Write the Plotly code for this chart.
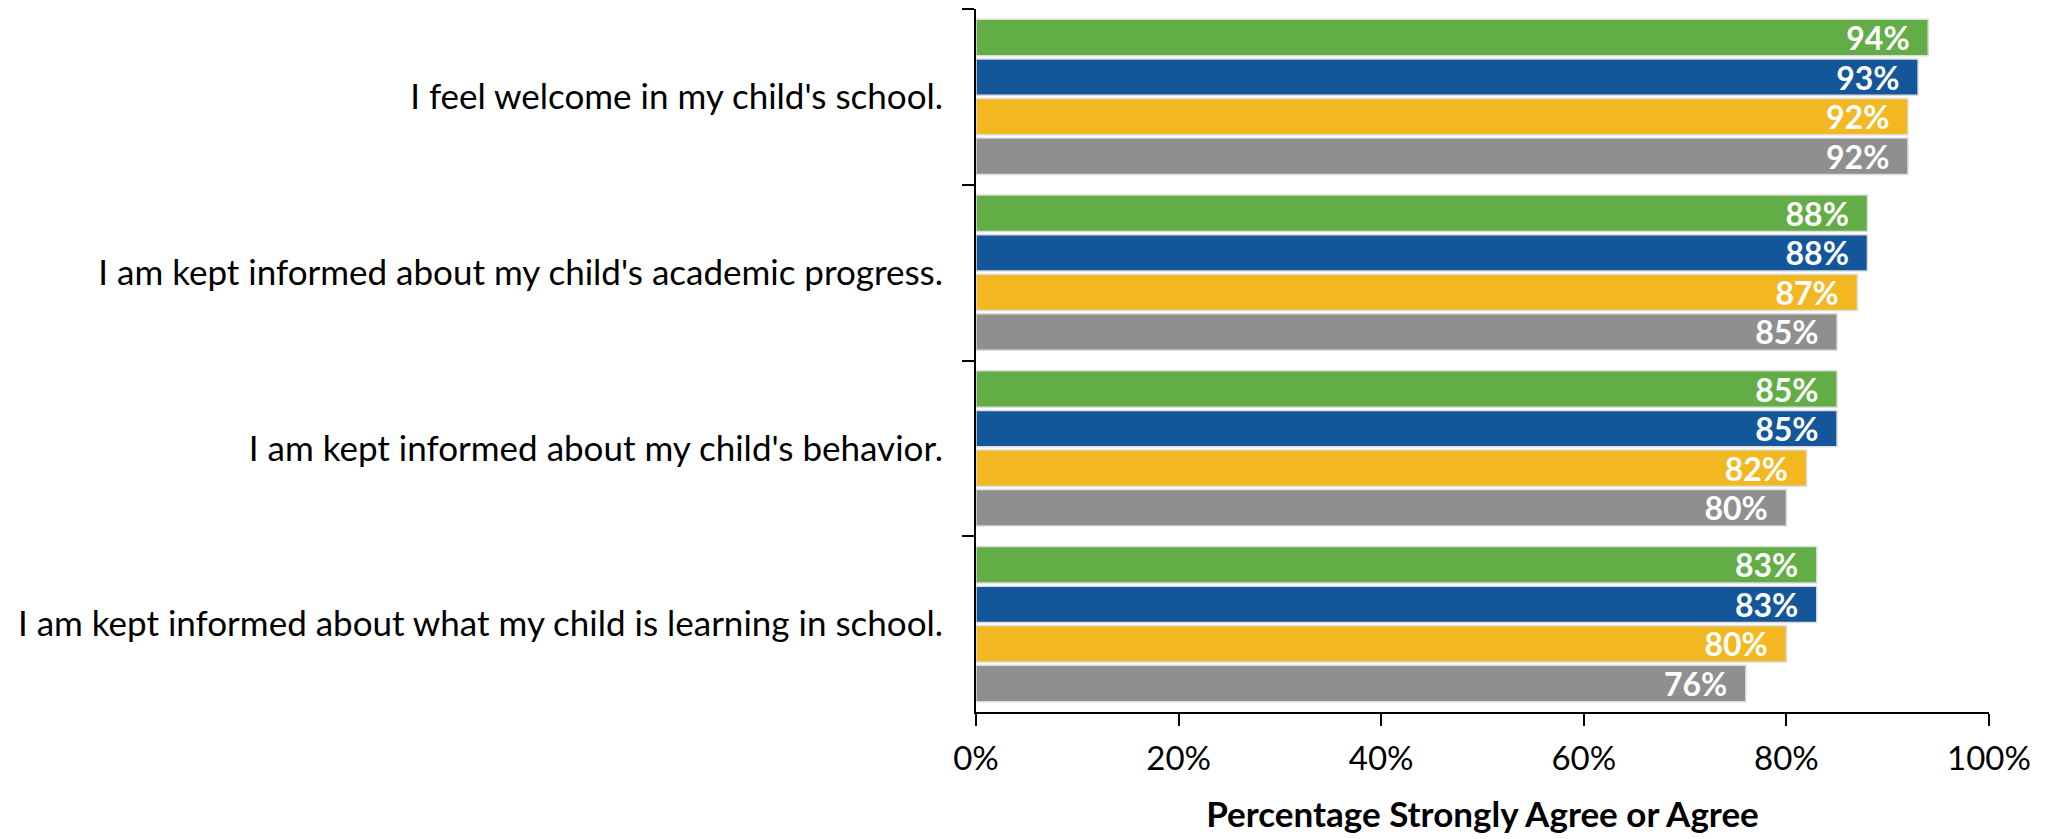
import plotly.graph_objects as go

categories = [
    "I feel welcome in my child's school.",
    "I am kept informed about my child's academic progress.",
    "I am kept informed about my child's behavior.",
    "I am kept informed about what my child is learning in school.",
]
series_names = ["Series 1", "Series 2", "Series 3", "Series 4"]
series_values = [
    [94, 88, 85, 83],
    [93, 88, 85, 83],
    [92, 87, 82, 80],
    [92, 85, 80, 76],
]
series_colors = ["#63AD46", "#13569A", "#F3B821", "#8F8F8F"]
x_tick_values = [0, 20, 40, 60, 80, 100]
x_tick_labels = ["0%", "20%", "40%", "60%", "80%", "100%"]
x_axis_title = "Percentage Strongly Agree or Agree"

FONT = "Lato"

fig = go.Figure()
for name, vals, col in zip(series_names, series_values, series_colors):
    fig.add_trace(go.Bar(
        name=name,
        y=categories,
        x=vals,
        orientation="h",
        marker=dict(color=col, line=dict(color="#DDDDDD", width=1.5)),
        text=[f"{v}%\u00a0\u00a0" for v in vals],
        texttemplate="%{text}",
        textposition="inside",
        insidetextanchor="end",
        textfont=dict(family=FONT, size=32, color="white", weight="bold"),
        hoverinfo="skip",
    ))

fig.update_layout(
    width=2040, height=831, autosize=False,
    margin=dict(l=968, r=59, t=1, b=127, pad=0),
    plot_bgcolor="white", paper_bgcolor="white",
    barmode="group", bargap=0.1, bargroupgap=0.08,
    showlegend=False,
    uniformtext=dict(minsize=32, mode="show"),
    font=dict(family=FONT, color="black"),
)
fig.update_yaxes(
    type="category", autorange="reversed",
    showline=True, linecolor="black", linewidth=2,
    ticks="outside", ticklen=12, tickwidth=2, tickcolor="black",
    tickson="boundaries", showgrid=False,
    tickfont=dict(family=FONT, size=35, color="black"),
    ticklabelstandoff=24,
)
fig.update_xaxes(
    range=[0, 100], tickvals=x_tick_values, ticktext=x_tick_labels,
    showline=True, linecolor="black", linewidth=2,
    ticks="outside", ticklen=12, tickwidth=2, tickcolor="black",
    showgrid=False, zeroline=False,
    tickfont=dict(family=FONT, size=33, color="black"),
    ticklabelstandoff=4,
    title=dict(text="<b>" + x_axis_title + "</b>", font=dict(family=FONT, size=35, color="black"), standoff=27),
)

fig.write_html("out.html")
